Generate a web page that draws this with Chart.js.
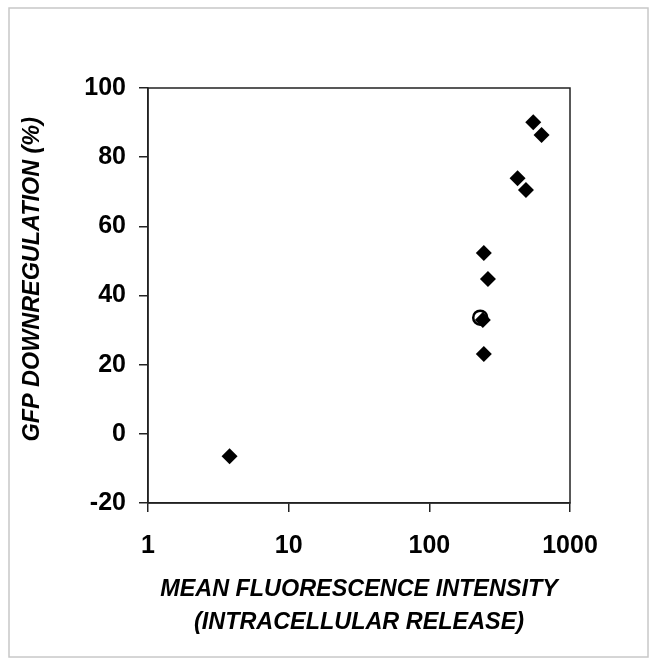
<!DOCTYPE html>
<html>
<head>
<meta charset="utf-8">
<script src="https://cdn.jsdelivr.net/npm/chart.js@4/dist/chart.umd.min.js"></script>
<style>
  html, body { margin: 0; padding: 0; background: #fff; }
  #wrap { width: 658px; height: 666px; }
</style>
</head>
<body>
<div id="wrap"><canvas id="gfpChart" width="658" height="666"></canvas></div>
<script>
// values
const mfi = [3.8, 244, 261, 240, 244, 424, 486, 548, 628];
const downregulation = [-6.5, 52.3, 44.8, 32.9, 23.1, 73.9, 70.5, 90.1, 86.4];
const circleMfi = [230];
const circleDown = [33.6];
const xTicks = [1, 10, 100, 1000];
const yTicks = [-20, 0, 20, 40, 60, 80, 100];

const FONT = "'Liberation Sans', Arial, sans-serif";

const framePlugin = {
  id: "frame",
  beforeDraw(chart) {
    const ctx = chart.ctx;
    ctx.save();
    ctx.fillStyle = "#fff";
    ctx.fillRect(0, 0, chart.width, chart.height);
    ctx.strokeStyle = "#c8c8c8";
    ctx.lineWidth = 1.5;
    ctx.strokeRect(9, 8, 639, 649);
    ctx.restore();
  },
  afterDraw(chart) {
    const a = chart.chartArea;
    const ctx = chart.ctx;
    ctx.save();
    ctx.strokeStyle = "#222";
    ctx.lineWidth = 1.5;
    ctx.strokeRect(a.left, a.top, a.right - a.left, a.bottom - a.top);
    ctx.restore();
  }
};

const ctx = document.getElementById("gfpChart");
new Chart(ctx, {
  type: "scatter",
  data: {
    datasets: [
      {
        label: "circle",
        data: circleMfi.map((x, i) => ({x: x, y: circleDown[i]})),
        pointStyle: "circle",
        pointRadius: 7,
        backgroundColor: "#fff",
        borderColor: "#000",
        borderWidth: 2.5,
        order: 2
      },
      {
        label: "GFP",
        data: mfi.map((x, i) => ({x: x, y: downregulation[i]})),
        pointStyle: "rectRot",
        pointRadius: 8,
        backgroundColor: "#000",
        borderColor: "#000",
        borderWidth: 0,
        order: 1
      }
    ]
  },
  options: {
    responsive: false,
    animation: false,
    layout: { padding: { left: 0, top: 88, right: 88, bottom: 0 } },
    plugins: {
      legend: { display: false },
      tooltip: { enabled: false }
    },
    scales: {
      x: {
        type: "logarithmic",
        min: 1,
        max: 1000,
        afterBuildTicks: (scale) => { scale.ticks = xTicks.map(v => ({value: v})); },
        afterFit: (scale) => { scale.height = 163; },
        border: { display: true, color: "#222", width: 1.5 },
        grid: { drawOnChartArea: false, drawTicks: true, tickLength: 9, color: "#222", lineWidth: 1.5 },
        ticks: {
          color: "#000",
          padding: 19,
          maxRotation: 0,
          font: { family: FONT, size: 25, weight: "bold" },
          callback: (v) => String(v)
        },
        title: {
          display: true,
          text: ["MEAN FLUORESCENCE INTENSITY", "(INTRACELLULAR RELEASE)"],
          color: "#000",
          font: { family: FONT, size: 23.4, weight: "bold", style: "italic", lineHeight: 1.41 },
          padding: { top: 0, bottom: 27 }
        }
      },
      y: {
        min: -20,
        max: 100,
        afterBuildTicks: (scale) => { scale.ticks = yTicks.map(v => ({value: v})); },
        afterFit: (scale) => { scale.width = 148; },
        border: { display: true, color: "#222", width: 1.5 },
        grid: { drawOnChartArea: false, drawTicks: true, tickLength: 9, color: "#222", lineWidth: 1.5 },
        ticks: {
          color: "#000",
          padding: 13,
          font: { family: FONT, size: 25, weight: "bold" }
        },
        title: {
          display: true,
          text: "     GFP DOWNREGULATION (%)",
          color: "#000",
          font: { family: FONT, size: 23.4, weight: "bold", style: "italic" },
          padding: { top: 19, bottom: 0 }
        }
      }
    }
  },
  plugins: [framePlugin]
});
</script>
</body>
</html>
